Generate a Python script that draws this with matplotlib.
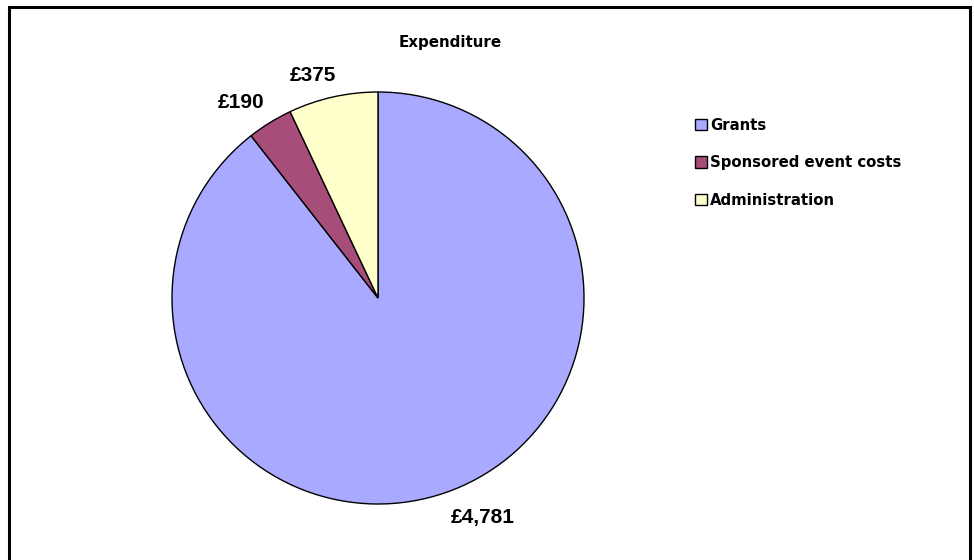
import matplotlib
matplotlib.use("Agg")
import matplotlib.pyplot as plt
import numpy as np
from matplotlib.patches import Rectangle

categories = ["Grants", "Sponsored event costs", "Administration"]
values = [4781, 190, 375]
value_labels = ["£4,781", "£190", "£375"]
colors = ["#A9A9FF", "#A64D79", "#FFFFCC"]
title = "Expenditure"

W, H = 974, 560
fig = plt.figure(figsize=(W / 100, H / 100), dpi=100)

# frame
fig.patches.append(Rectangle((9 / W, -0.1), (970 - 9) / W, (H - 7) / H + 0.1,
                             transform=fig.transFigure, fill=False,
                             edgecolor="black", linewidth=2.2))

cx, cy, r = 378, H - 298, 206
ax = fig.add_axes([(cx - r) / W, (cy - r) / H, 2 * r / W, 2 * r / H])
wedges, _ = ax.pie(values, colors=colors, startangle=90, counterclock=False,
                   wedgeprops=dict(edgecolor="black", linewidth=1.0))
ax.set_xlim(-1, 1)
ax.set_ylim(-1, 1)
ax.set_aspect("equal")
ax.axis("off")

# label placement (style: angle nudge in degrees, radial distance)
label_style = [(6.5, 1.18), (3.4, 1.157), (3.7, 1.128)]
for w, lab, (dang, dist) in zip(wedges, value_labels, label_style):
    ang = np.deg2rad((w.theta1 + w.theta2) / 2 + dang)
    ax.text(dist * np.cos(ang), dist * np.sin(ang), lab, ha="center", va="center",
            fontsize=15, fontweight="bold", family="Liberation Sans",
            clip_on=False)

fig.text(450 / W, 1 - 42 / H, title, ha="center", va="center",
         fontsize=10.9, fontweight="bold", family="DejaVu Sans")

leg = fig.legend(wedges, categories, loc="upper left",
                 bbox_to_anchor=(689 / W, 1 - 112 / H), frameon=False,
                 prop=dict(family="DejaVu Sans", weight="bold", size=10.7),
                 handlelength=0.8, handleheight=0.8, handletextpad=0.2,
                 labelspacing=1.5, borderaxespad=0)

fig.savefig("out.png", dpi=100)
